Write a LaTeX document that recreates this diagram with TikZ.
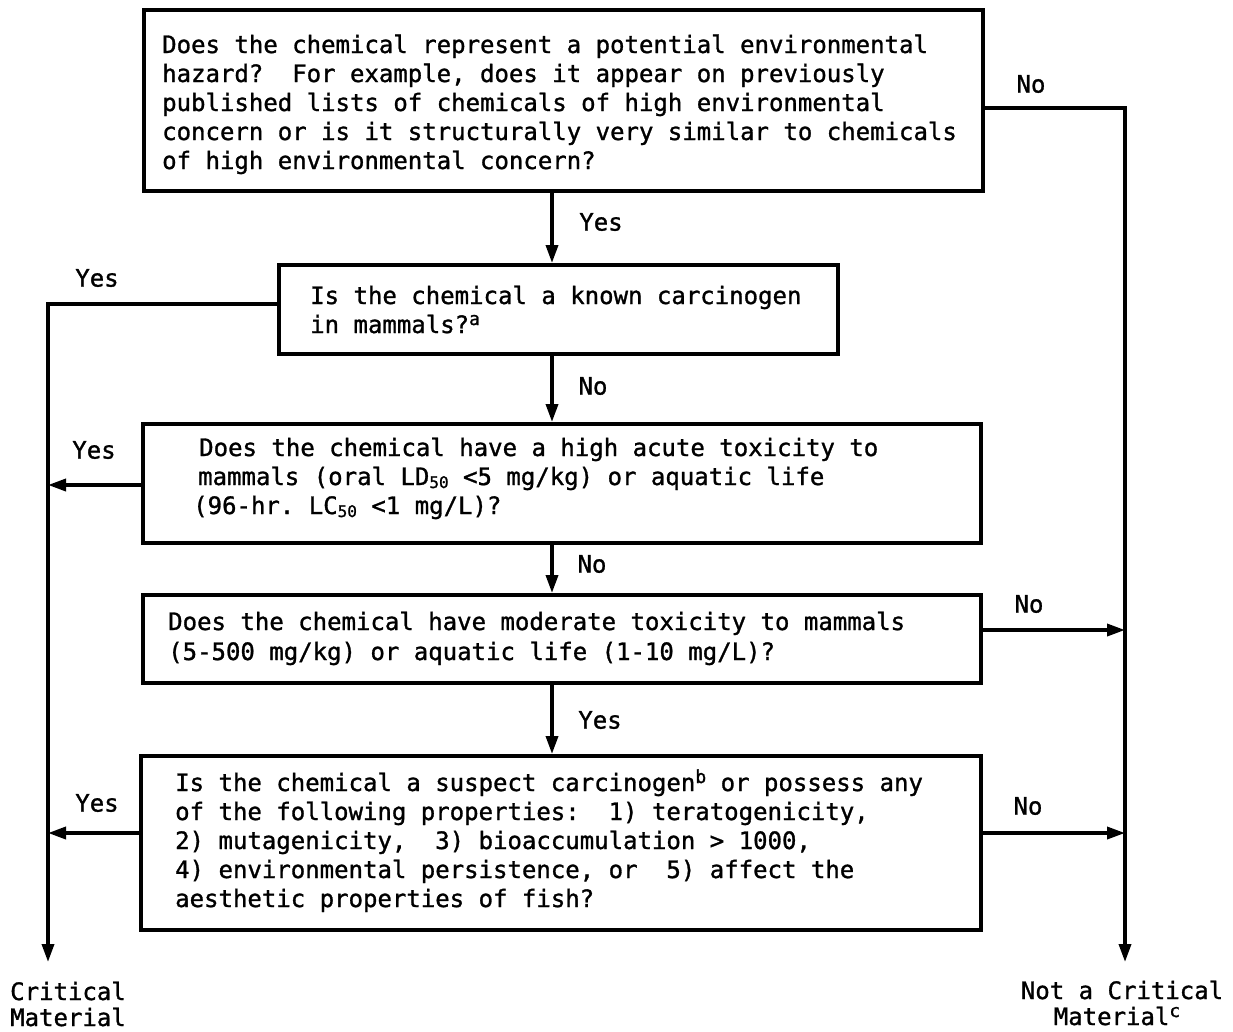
\documentclass[tikz,border=0pt]{standalone}
\usepackage{fontspec}
\setmonofont{DejaVu Sans Mono}[FakeBold=1.2]
\usetikzlibrary{arrows.meta}
\newcommand{\sbs}[1]{\raisebox{-3pt}{\fontsize{16}{16}\selectfont #1}}
\newcommand{\sps}[1]{\raisebox{8pt}{\fontsize{18}{18}\selectfont #1}}
\begin{document}
\begin{tikzpicture}[x=1pt,y=-1pt,
  every node/.style={font=\ttfamily\fontsize{24}{29}\selectfont, inner sep=0pt},
  qbox/.style={draw, line width=3.5pt, anchor=north west},
  ln/.style={anchor=base west},
  lab/.style={anchor=center},
  arr/.style={line width=3.5pt, -{Triangle[length=18pt,width=12pt]}}]
\useasboundingbox (0,0) rectangle (1233,1031);
% boxes
\node[qbox, minimum width=839pt, minimum height=181pt] (b1) at (142,8) {};
\node[qbox, minimum width=559pt, minimum height=89pt] (b2) at (277,263) {};
\node[qbox, minimum width=838pt, minimum height=119pt] (b3) at (141,422) {};
\node[qbox, minimum width=838pt, minimum height=88pt] (b4) at (141,593) {};
\node[qbox, minimum width=840pt, minimum height=174pt] (b5) at (139,754) {};
% box 1 text
\node[ln] (t1a) at (162,53) {Does the chemical represent a potential environmental};
\node[ln] (t1b) at (162,82) {hazard?~ For example, does it appear on previously};
\node[ln] (t1c) at (162,111) {published lists of chemicals of high environmental};
\node[ln] (t1d) at (162,140) {concern or is it structurally very similar to chemicals};
\node[ln] (t1e) at (162,169) {of high environmental concern?};
% box 2 text
\node[ln] (t2a) at (310,304) {Is the chemical a known carcinogen};
\node[ln] (t2b) at (310,333) {in mammals?\sps{a}};
% box 3 text
\node[ln] (t3a) at (199,456) {Does the chemical have a high acute toxicity to};
\node[ln] (t3b) at (198,485) {mammals (oral LD\sbs{50} <5 mg/kg) or aquatic life};
\node[ln] (t3c) at (193,514) {(96-hr. LC\sbs{50} <1 mg/L)?};
% box 4 text
\node[ln] (t4a) at (168,630) {Does the chemical have moderate toxicity to mammals};
\node[ln] (t4b) at (168,660) {(5-500 mg/kg) or aquatic life (1-10 mg/L)?};
% box 5 text
\node[ln] (t5a) at (175,791) {Is the chemical a suspect carcinogen\sps{b} or possess any};
\node[ln] (t5b) at (175,820) {of the following properties:~ 1) teratogenicity,};
\node[ln] (t5c) at (175,849) {2) mutagenicity,~ 3) bioaccumulation > 1000,};
\node[ln] (t5d) at (175,878) {4) environmental persistence, or~ 5) affect the};
\node[ln] (t5e) at (175,907) {aesthetic properties of fish?};
% side coordinates
\coordinate (L1) at (48,304);
\coordinate (Lend) at (48,962);
\coordinate (L3) at (48,485);
\coordinate (L5) at (48,833);
\coordinate (R1) at (1125,108);
\coordinate (Rend) at (1125,962);
\coordinate (R4) at (1125,630);
\coordinate (R5) at (1125,833);
% main vertical arrows
\draw[arr] (b1.south -| 552,0) -- (b2.north -| 552,0);
\draw[arr] (b2.south -| 552,0) -- (b3.north -| 552,0);
\draw[arr] (b3.south -| 552,0) -- (b4.north -| 552,0);
\draw[arr] (b4.south -| 552,0) -- (b5.north -| 552,0);
% left side
\draw[arr] (b2.west |- L1) -- (L1) -- (Lend);
\draw[arr] (b3.west |- L3) -- (L3);
\draw[arr] (b5.west |- L5) -- (L5);
% right side
\draw[arr] (b1.east |- R1) -- (R1) -- (Rend);
\draw[arr] (b4.east |- R4) -- (R4);
\draw[arr] (b5.east |- R5) -- (R5);
% labels
\node[lab] (y1) at (601,222) {Yes};
\node[lab] (n2) at (593,386) {No};
\node[lab] (n3) at (592,564) {No};
\node[lab] (y4) at (600,720) {Yes};
\node[lab] (yl2) at (97,278) {Yes};
\node[lab] (yl3) at (94,450) {Yes};
\node[lab] (yl5) at (97,803) {Yes};
\node[lab] (nr1) at (1031,84) {No};
\node[lab] (nr4) at (1029,604) {No};
\node[lab] (nr5) at (1028,806) {No};
% outcomes
\node[ln] (crit1) at (10,1000) {Critical};
\node[ln, text depth=0pt] (crit2) at (10,1026) {Material};
\node[anchor=base] (nc1) at (1122,999) {Not a Critical};
\node[anchor=base, text depth=0pt] (nc2) at (1117,1025) {Material\sps{c}};
\end{tikzpicture}
\end{document}
